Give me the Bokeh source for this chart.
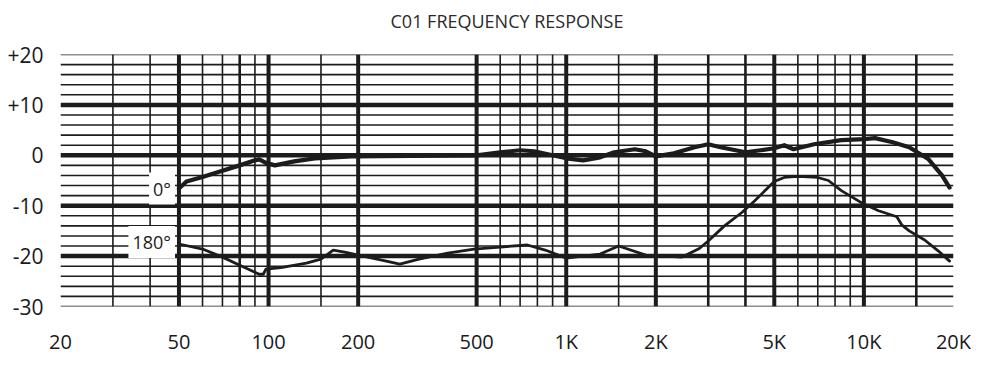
from bokeh.plotting import figure
from bokeh.models import Range1d, FixedTicker, Label, LogAxis
from bokeh.embed import file_html
from bokeh.resources import INLINE

# ---- data ----
title_text = "C01 FREQUENCY RESPONSE"

freq_0 = [50, 53, 60, 67, 80, 90, 93, 98, 105, 122, 143, 190, 300, 500, 600, 700, 780, 900,
          1000, 1140, 1300, 1450, 1700, 1850, 2000, 2300, 2700, 3000, 3300, 4000, 4500, 5000,
          5400, 5800, 6800, 8400, 10000, 10900, 12500, 14200, 16500, 18300, 19400]
db_0 = [-6.6, -5.2, -4.3, -3.4, -2.0, -1.0, -0.8, -1.5, -2.0, -1.2, -0.6, -0.2, -0.1, 0.0, 0.6, 1.0, 0.8, 0.0,
        -0.6, -1.0, -0.4, 0.6, 1.2, 0.8, -0.2, 0.4, 1.6, 2.2, 1.6, 0.6, 1.0, 1.4,
        2.0, 1.2, 2.2, 3.0, 3.2, 3.4, 2.6, 1.6, -0.8, -4.0, -6.4]

freq_180 = [50, 60, 70, 80, 90, 93, 96, 98, 110, 134, 150, 165, 180, 200, 240, 276, 320, 400, 490,
            600, 740, 850, 1000, 1300, 1500, 1850, 2450, 2800, 3000, 3400, 3900, 4300, 5000, 5400,
            6000, 7000, 7600, 8400, 9800, 11200, 12900, 13400, 14200, 16000, 17800, 19400]
db_180 = [-17.6, -18.6, -20.2, -21.8, -23.2, -23.6, -23.6, -22.6, -22.3, -21.4, -20.6, -18.8, -19.2, -19.8, -20.8, -21.6, -20.6, -19.4, -18.6,
          -18.2, -17.8, -18.8, -20.4, -19.6, -18.0, -19.8, -20.2, -18.5, -17.0, -14.0, -11.3, -9.0, -5.2, -4.4,
          -4.2, -4.4, -5.0, -7.0, -9.4, -11.0, -12.2, -13.8, -15.0, -16.8, -19.0, -21.0]

x_ticks = [20, 50, 100, 200, 500, 1000, 2000, 5000, 10000, 20000]
x_tick_labels = ["20", "50", "100", "200", "500", "1K", "2K", "5K", "10K", "20K"]
y_ticks = [20, 10, 0, -10, -20, -30]
y_tick_labels = ["+20", "+10", "0", "-10", "-20", "-30"]

grid_freqs_major = [50, 100, 200, 500, 1000, 2000, 5000, 10000]
grid_freqs_medium = [80, 3000, 4000, 15000]
grid_freqs_minor = [30, 40, 60, 70, 90, 150, 600, 700, 800, 900, 1500, 6000, 7000, 8000, 9000]
grid_db_major = [10, 0, -10, -20]
grid_db_minor = [20, 18, 16, 14, 12, 8, 6, 4, 2, -2, -4, -6, -8, -12, -14, -16, -18, -22, -24, -26, -28, -30]

INK = "#1c1c1c"
FONT = "Open Sans"

p = figure(frame_width=893, frame_height=252, x_axis_type="log",
           x_range=Range1d(20, 20000), y_range=Range1d(-30, 20),
           output_backend="svg", toolbar_location=None,
           min_border_left=60, min_border_right=24, min_border_top=54, min_border_bottom=45)
p.outline_line_color = None
p.xgrid.visible = False
p.ygrid.visible = False
p.background_fill_color = "white"
p.border_fill_color = "white"

bottom_axis = p.below[0]
left_axis = p.left[0]

# title, drawn as the label of a tick-less axis above the frame
top_axis = LogAxis(ticker=FixedTicker(ticks=[]), axis_label=title_text,
                   axis_line_color=None, major_tick_line_color=None, minor_tick_line_color=None,
                   major_tick_out=0, major_label_standoff=0, axis_label_standoff=22,
                   axis_label_text_font=FONT, axis_label_text_font_style="normal",
                   axis_label_text_font_size="18px", axis_label_text_color="#2a2a2a")
p.add_layout(top_axis, "above")

# horizontal grid
p.segment(x0=20, x1=20000, y0=grid_db_minor, y1=grid_db_minor, line_color=INK, line_width=1.6)
p.segment(x0=20, x1=20000, y0=grid_db_major, y1=grid_db_major, line_color=INK, line_width=4.5)
# vertical grid
p.segment(x0=grid_freqs_minor, x1=grid_freqs_minor, y0=-30, y1=20, line_color=INK, line_width=1.6)
p.segment(x0=grid_freqs_medium, x1=grid_freqs_medium, y0=-30, y1=20, line_color=INK, line_width=2.6)
p.segment(x0=grid_freqs_major, x1=grid_freqs_major, y0=-30, y1=20, line_color=INK, line_width=4)

# curves
p.line(freq_0, db_0, line_color=INK, line_width=4.2, line_join="round", line_cap="round")
p.line(freq_180, db_180, line_color=INK, line_width=2.8, line_join="round", line_cap="round")

# curve labels
for txt, yv in (("0°", -6.6), ("180°", -17.2)):
    p.add_layout(Label(x=48.5, y=yv, text=txt, text_align="right", text_baseline="middle",
                       text_font=FONT, text_font_size="18px", text_color=INK,
                       background_fill_color="white", padding=4))

# axes
bottom_axis.ticker = FixedTicker(ticks=x_ticks)
bottom_axis.major_label_overrides = {t: l for t, l in zip(x_ticks, x_tick_labels)}
left_axis.ticker = FixedTicker(ticks=y_ticks)
left_axis.major_label_overrides = {t: l for t, l in zip(y_ticks, y_tick_labels)}
for ax in (bottom_axis, left_axis):
    ax.axis_line_color = None
    ax.major_tick_line_color = None
    ax.minor_tick_line_color = None
    ax.major_label_text_font = FONT
    ax.major_label_text_color = "#1a1a1a"
bottom_axis.major_label_text_font_size = "20px"
bottom_axis.major_label_standoff = 15
left_axis.major_label_text_font_size = "21px"
left_axis.major_label_standoff = 11

open("out.html", "w").write(file_html(p, INLINE))
